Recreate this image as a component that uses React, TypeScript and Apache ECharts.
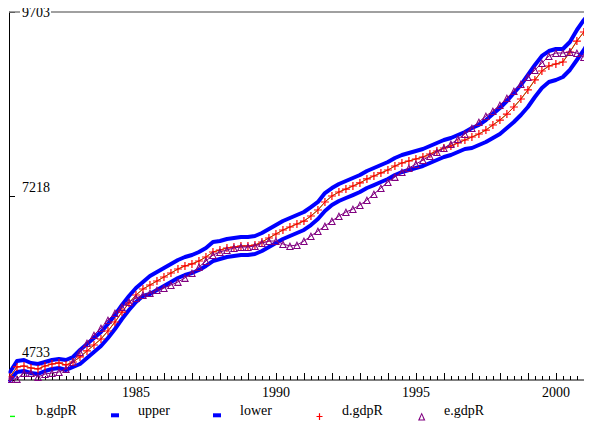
import React, { useEffect, useRef } from "react";
import * as echarts from "echarts";

// first plotted quarter (1980 Q3) and spacing of observations, in years
const firstQuarter = 1980.5;
const quarterLength = 0.25;

const dGdpR = [
  4774, 4909, 4922, 4895, 4882, 4922, 4949, 4963, 4936, 4976,
  5044, 5125, 5206, 5287, 5395, 5516, 5651, 5773, 5881, 5962,
  6016, 6070, 6124, 6178, 6232, 6273, 6300, 6340, 6394, 6462,
  6489, 6516, 6529, 6543, 6543, 6556, 6597, 6651, 6705, 6759,
  6799, 6840, 6880, 6948, 7029, 7137, 7218, 7272, 7312, 7353,
  7394, 7448, 7488, 7529, 7569, 7623, 7664, 7691, 7718, 7745,
  7785, 7826, 7866, 7893, 7934, 7974, 8015, 8055, 8109, 8177,
  8244, 8325, 8420, 8528, 8650, 8785, 8906, 8974, 9001, 9028,
  9163, 9311, 9433, 9541,
];

const bGdpR = [
  4774, 4909, 4922, 4895, 4882, 4922, 4949, 4963, 4936, 4976,
  5044, 5125, 5206, 5287, 5395, 5516, 5651, 5773, 5881, 5962,
  6016, 6070, 6124, 6178, 6232, 6273, 6300, 6340, 6394, 6462,
  6489, 6516, 6529, 6543, 6543, 6556, 6597, 6651, 6705, 6759,
  6799, 6840, 6880, 6948, 7029, 7137, 7218, 7272, 7312, 7353,
  7394, 7448, 7488, 7529, 7569, 7623, 7664, 7691, 7718, 7745,
  7785, 7826, 7866, 7893, 7934, 7974, 8015, 8055, 8109, 8177,
  8244, 8325, 8420, 8528, 8650, 8785, 8906, 8974, 9001, 9028,
  9163, 9311, 9433, 9541,
];

const upper = [
  4841, 4990, 5003, 4963, 4949, 4976, 5003, 5017, 5003, 5044,
  5138, 5219, 5300, 5381, 5489, 5611, 5746, 5867, 5975, 6057,
  6138, 6192, 6246, 6300, 6354, 6394, 6421, 6462, 6516, 6597,
  6610, 6637, 6651, 6664, 6664, 6678, 6718, 6772, 6826, 6880,
  6921, 6961, 7002, 7069, 7137, 7258, 7326, 7380, 7421, 7461,
  7502, 7556, 7596, 7637, 7677, 7731, 7772, 7799, 7826, 7853,
  7893, 7934, 7974, 8001, 8042, 8082, 8136, 8177, 8244, 8325,
  8406, 8501, 8609, 8717, 8852, 8987, 9109, 9176, 9203, 9203,
  9298, 9460, 9595, 9703,
];

const lower = [
  4733, 4841, 4855, 4828, 4814, 4855, 4882, 4895, 4868, 4909,
  4949, 5030, 5111, 5192, 5300, 5422, 5557, 5678, 5786, 5867,
  5894, 5948, 6003, 6057, 6111, 6151, 6178, 6219, 6273, 6340,
  6367, 6394, 6408, 6421, 6421, 6435, 6475, 6529, 6583, 6637,
  6678, 6718, 6759, 6826, 6907, 7015, 7096, 7150, 7191, 7231,
  7272, 7326, 7366, 7407, 7448, 7502, 7542, 7569, 7596, 7623,
  7664, 7704, 7745, 7772, 7812, 7853, 7866, 7907, 7947, 8001,
  8055, 8136, 8217, 8312, 8420, 8555, 8677, 8758, 8785, 8825,
  8920, 9055, 9190, 9352,
];

const eGdpR = [
  4747, 4747, 4828, 4828, 4774, 4814, 4828, 4841, 4882, 4976,
  5111, 5233, 5341, 5435, 5543, 5638, 5719, 5786, 5840, 5881,
  5908, 5948, 5975, 6016, 6057, 6111, 6178, 6259, 6340, 6421,
  6462, 6489, 6516, 6529, 6529, 6543, 6583, 6610, 6610, 6570,
  6543, 6556, 6610, 6678, 6745, 6813, 6880, 6948, 7002, 7042,
  7096, 7164, 7245, 7326, 7407, 7475, 7542, 7596, 7650, 7704,
  7758, 7812, 7866, 7920, 7988, 8055, 8136, 8217, 8298, 8366,
  8447, 8541, 8636, 8730, 8825, 8920, 9014, 9109, 9149, 9149,
  9163, 9149, 9095, 9082,
];

const yTickValues = [4733, 7218, 9703];
const labelYears = [1985, 1990, 1995, 2000];
const xRange = [1980, 2001.29];
const seriesNames = ["b.gdpR", "upper", "lower", "d.gdpR", "e.gdpR"];

const FONT = '"Liberation Serif", "Times New Roman", serif';
const GREEN = "#00ff00";
const BLUE = "#0000ff";
const RED = "#ff0000";
const PURPLE = "#800080";

const plusSymbol = "path://M3.4,0h1.2v8h-1.2zM0,3.4h8v1.2h-8z";
const triSymbol = "path://M4,0L8,8L0,8ZM4,2.3L1.7,6.9L6.3,6.9Z";

const legendIcons = [
  "path://M0,0M30,24M9,17.7h5v1.4h-5z",
  "path://M0,0M30,24M8,15.3h8v4h-8z",
  "path://M0,0M30,24M8,15.3h8v4h-8z",
  "path://M0,0M30,24M9.5,17.9h6v1.2h-6zM11.9,15.3h1.2v6.6h-1.2z",
  "path://M0,0M30,24M12.7,14.5L16.4,22.5L9,22.5ZM12.7,16.8L10.8,21.4L14.6,21.4Z",
];
const legendColors = [GREEN, BLUE, BLUE, RED, PURPLE];

function pairs(vals: number[]) {
  return vals.map((v, i) => [firstQuarter + i * quarterLength, v]);
}

export default function App() {
  const ref = useRef<HTMLDivElement>(null);

  useEffect(() => {
    if (!ref.current) return;
    const chart = echarts.init(ref.current, null, { renderer: "svg" });

    const labelRich = {
      t: { fontFamily: FONT, fontSize: 14, color: "#000" },
      m: { fontFamily: FONT, fontSize: 14, color: "#000", padding: [0, 0, 17, 0] },
      b: { fontFamily: FONT, fontSize: 14, color: "#000", padding: [0, 0, 56, 0] },
    };

    chart.setOption({
      animation: false,
      backgroundColor: "#fff",
      grid: { left: -4, right: 0, top: 12, bottom: 50, containLabel: false, outerBoundsMode: "none" },
      xAxis: {
        type: "value",
        min: xRange[0],
        max: xRange[1],
        interval: 1,
        axisLine: { show: false },
        axisTick: { show: true, inside: true, length: 7, lineStyle: { color: "#000", width: 1 } },
        minorTick: { show: true, splitNumber: 4, length: 4, lineStyle: { color: "#000", width: 1 } },
        splitLine: { show: false },
        axisLabel: {
          show: true,
          margin: 5,
          fontFamily: FONT,
          fontSize: 14,
          color: "#000",
          showMinLabel: true,
          showMaxLabel: true,
          formatter: (v: number) => (labelYears.indexOf(Math.round(v * 1000) / 1000) >= 0 ? String(v) : ""),
        },
      },
      yAxis: {
        type: "value",
        min: yTickValues[0],
        max: yTickValues[2],
        interval: yTickValues[1] - yTickValues[0],
        offset: -13,
        axisLine: { show: true, onZero: false, lineStyle: { color: "#000", width: 1 } },
        axisTick: { show: true, inside: true, length: 6, lineStyle: { color: "#000" } },
        splitLine: { show: false },
        axisLabel: {
          inside: true,
          margin: 13,
          showMinLabel: true,
          showMaxLabel: true,
          fontFamily: FONT,
          fontSize: 14,
          color: "#000",
          formatter: (v: number) => {
            if (v === yTickValues[2]) return `{t|${v}}`;
            if (v === yTickValues[1]) return `{m|${v}}`;
            return `{b|${v}}`;
          },
          rich: labelRich,
        },
      },
      legend: seriesNames.map((name, i) => ({
        left: 1 + i * 102,
        top: 398,
        padding: 0,
        itemWidth: 30,
        itemHeight: 24,
        selectedMode: false,
        textStyle: { fontFamily: FONT, fontSize: 14, color: "#000" },
        data: [{ name, icon: legendIcons[i], itemStyle: { color: legendColors[i], borderWidth: 0 } }],
      })),
      graphic: [
        { type: "line", z: 1, shape: { x1: 9, y1: 380, x2: 592, y2: 380 }, style: { stroke: "#000", lineWidth: 1 } },
        { type: "line", z: 1, shape: { x1: 9, y1: 12, x2: 20, y2: 12 }, style: { stroke: "#808080", lineWidth: 1.5 } },
        { type: "line", z: 1, shape: { x1: 51, y1: 12, x2: 592, y2: 12 }, style: { stroke: "#808080", lineWidth: 1.5 } },
        { type: "rect", z: 100, shape: { x: 0, y: 368, width: 8.5, height: 12 }, style: { fill: "#fff" } },
      ],
      series: [
        {
          name: "upper",
          type: "line",
          data: pairs(upper),
          showSymbol: false,
          symbol: "none",
          lineStyle: { color: BLUE, width: 4, join: "round", cap: "round" },
          itemStyle: { color: BLUE },
          z: 2,
        },
        {
          name: "lower",
          type: "line",
          data: pairs(lower),
          showSymbol: false,
          symbol: "none",
          lineStyle: { color: BLUE, width: 4, join: "round", cap: "round" },
          itemStyle: { color: BLUE },
          z: 2,
        },
        {
          name: "b.gdpR",
          type: "line",
          data: pairs(bGdpR),
          showSymbol: false,
          symbol: "none",
          lineStyle: { color: GREEN, width: 1 },
          itemStyle: { color: GREEN },
          z: 3,
        },
        {
          name: "d.gdpR",
          type: "line",
          data: pairs(dGdpR),
          symbol: plusSymbol,
          symbolSize: 8,
          showSymbol: true,
          lineStyle: { color: RED, width: 1 },
          itemStyle: { color: RED, borderWidth: 0 },
          z: 4,
        },
        {
          name: "e.gdpR",
          type: "line",
          data: pairs(eGdpR),
          symbol: triSymbol,
          symbolSize: 8,
          showSymbol: true,
          lineStyle: { color: PURPLE, width: 1 },
          itemStyle: { color: PURPLE, borderWidth: 0 },
          z: 5,
        },
      ],
    });

    return () => chart.dispose();
  }, []);

  return <div ref={ref} style={{ width: 592, height: 430, margin: -8 }} />;
}
